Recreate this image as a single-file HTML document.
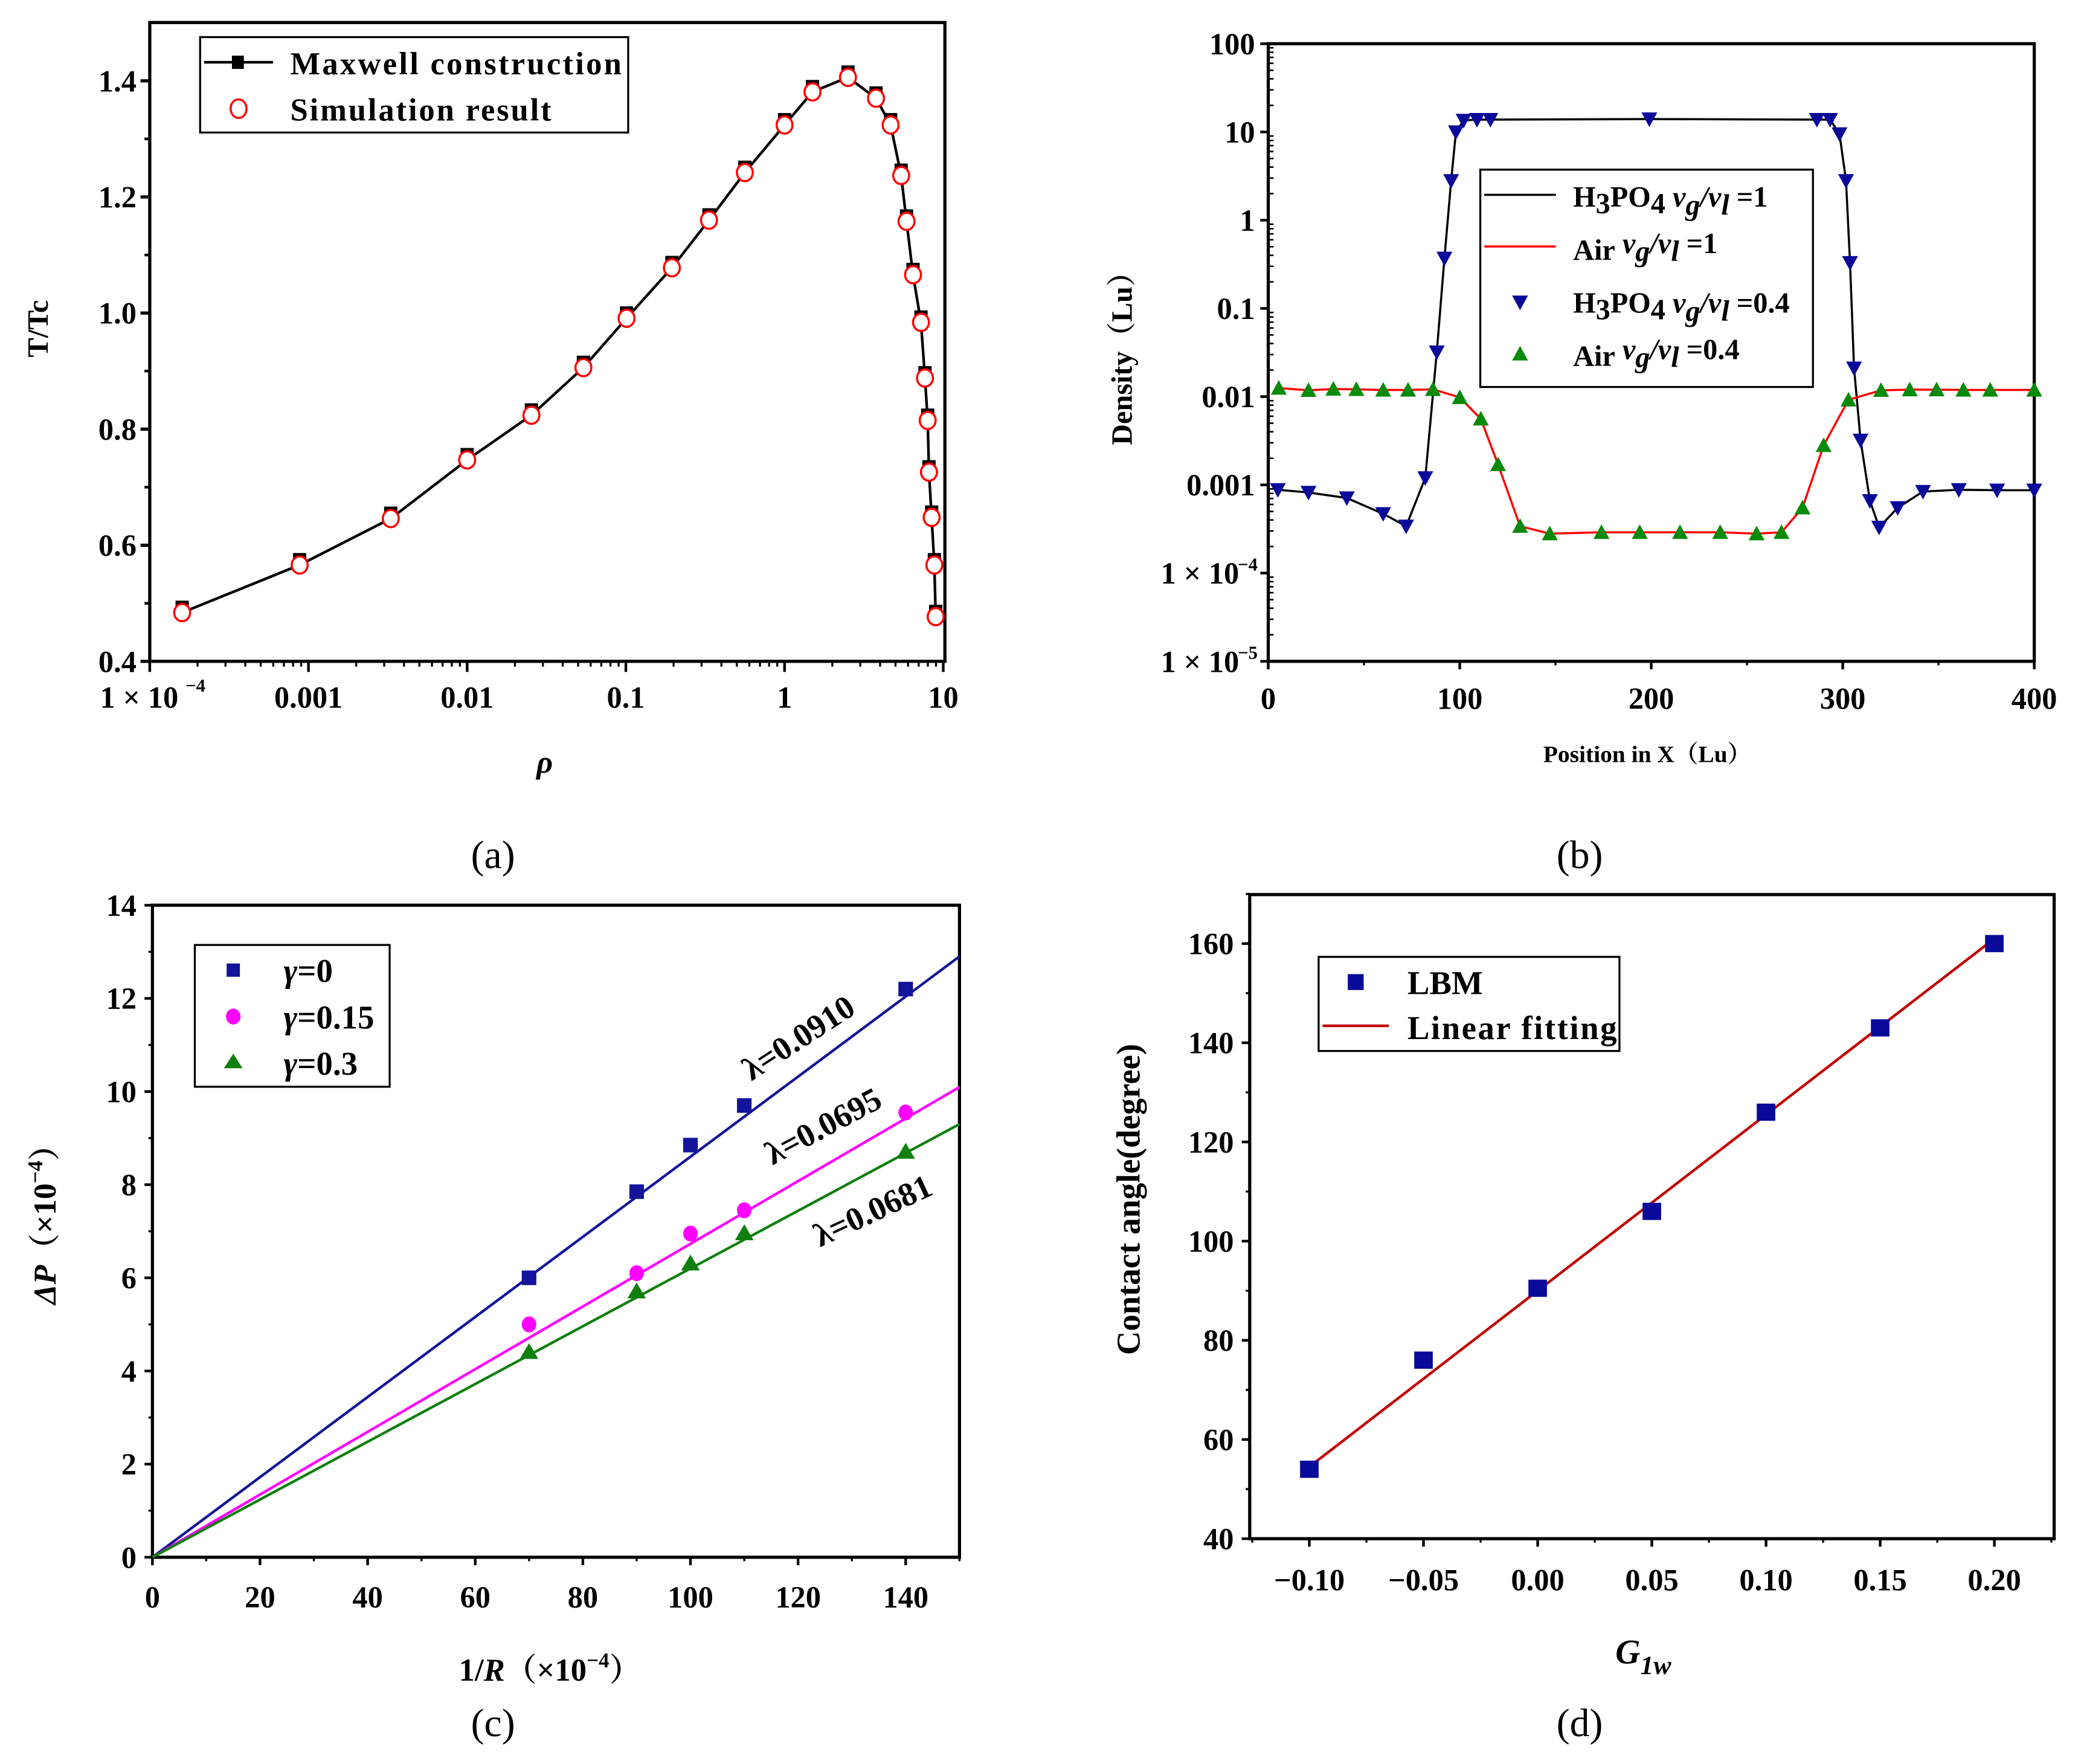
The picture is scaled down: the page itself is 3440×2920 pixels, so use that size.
<!DOCTYPE html>
<html><head><meta charset="utf-8"><style>
html,body{margin:0;padding:0;background:#fff}
svg{display:block}
text{font-family:"Liberation Serif","Noto Serif CJK SC",serif;font-weight:bold;fill:#000}
text.cap{font-weight:normal}
</style></head><body>
<svg id="fig" xmlns="http://www.w3.org/2000/svg" width="3440" height="2920" viewBox="0 0 1568 1331"></svg>
<script>
// ---------- Panel (a) data ----------
const aRho = [1.6e-4,8.8e-4,3.3e-3,0.01,0.0254,0.054,0.101,0.195,0.334,0.562,1.0,1.5,2.51,3.77,4.66,5.43,5.87,6.45,7.24,7.67,7.98,8.13,8.45,8.79,8.96];
const aT = [0.484,0.566,0.646,0.747,0.824,0.906,0.991,1.078,1.160,1.242,1.324,1.381,1.406,1.370,1.324,1.237,1.158,1.066,0.984,0.888,0.815,0.726,0.648,0.566,0.477];
const aYTicks = [0.4,0.6,0.8,1.0,1.2,1.4];
const aYTickLabels = ["0.4","0.6","0.8","1.0","1.2","1.4"];
const aXTicks = [1e-4,1e-3,1e-2,0.1,1,10];
const aXTickLabels = ["1 × 10","0.001","0.01","0.1","1","10"];
// ---------- Panel (b) data ----------
const bHX = [5,21,41,60,72,82,88,92,95.5,98,102,109,116,199,286.5,293.4,298.3,301.7,303.8,305.9,309.3,314.2,319,328.7,341.9,360.6,380.6,400];
const bHY = [0.00088,0.00082,0.00071,0.00047,0.00034,0.0012,0.032,0.37,2.8,10,13.5,13.8,13.8,14,13.8,13.8,9.5,2.8,0.33,0.021,0.0032,0.00066,0.00033,0.00055,0.00084,0.00088,0.00087,0.00087];
const bAX = [5.5,21,34,46,60,73,86,100,111,120,131.5,147,174,194,215,236,255,268,279,290,303,320,335,349,363,377,400];
const bAY = [0.0125,0.0118,0.0122,0.0121,0.0119,0.0119,0.0121,0.0098,0.0056,0.0017,0.00034,0.00028,0.00029,0.00029,0.00029,0.00029,0.00028,0.00029,0.00055,0.0028,0.0092,0.0118,0.012,0.012,0.0119,0.0119,0.0119];
const bYTicks = [1e-5,1e-4,1e-3,1e-2,0.1,1,10,100];
const bYTickLabels = ["1 × 10","1 × 10","0.001","0.01","0.1","1","10","100"];
const bXTicks = [0,100,200,300,400];
const bXTickLabels = ["0","100","200","300","400"];
// ---------- Panel (c) data ----------
const cX = [70,90,100,110,140];
const cY0 = [6.0,7.85,8.85,9.7,12.2];
const cY15 = [5.0,6.1,6.95,7.45,9.55];
const cY30 = [4.4,5.7,6.3,6.95,8.7];
const cSlopes = [0.0860,0.0673,0.0620];
const cLambdaLabels = ["λ=0.0910","λ=0.0695","λ=0.0681"];
const cXTicks = [0,20,40,60,80,100,120,140];
const cYTicks = [0,2,4,6,8,10,12,14];
// ---------- Panel (d) data ----------
const dX = [-0.10,-0.05,0.00,0.05,0.10,0.15,0.20];
const dY = [54,76,90.5,106,126,143,160];
const dFitX = [-0.10,0.20];
const dFitY = [54.5,161];
const dXTicks = [-0.10,-0.05,0.00,0.05,0.10,0.15,0.20];
const dXTickLabels = ["−0.10","−0.05","0.00","0.05","0.10","0.15","0.20"];
const dYTicks = [40,60,80,100,120,140,160];

const NS="http://www.w3.org/2000/svg";
const svg=document.getElementById('fig');
const TS=23;
function mk(tag,attrs,parent){const e=document.createElementNS(NS,tag);for(const k in attrs)e.setAttribute(k,attrs[k]);(parent||svg).appendChild(e);return e;}
function txt(s,x,y,size,parent,anchor,extra){const t=mk('text',Object.assign({x:x,y:y,'font-size':size,'text-anchor':anchor||'middle'},extra||{}),parent);t.textContent=s;return t;}
function grp(parent){return mk('g',{},parent);}
function pathD(xs,ys,fx,fy){return xs.map((v,i)=>(i?'L':'M')+fx(v).toFixed(2)+' '+fy(ys[i]).toFixed(2)).join(' ');}
const L10=Math.log10;

// ================= Panel A =================
{
const X0=113,X1=713,Y0=17,Y1=499;
const fx=v=>113+(L10(v)+4)*119.75;
const fy=v=>499-(v-0.4)*438;
const g=grp();
const frame=mk('rect',{x:X0,y:Y0,width:X1-X0,height:Y1-Y0,fill:'none',stroke:'#000','stroke-width':2.4},g);

aYTicks.forEach((v,i)=>{mk('line',{x1:X0-7,x2:X0,y1:fy(v),y2:fy(v),stroke:'#000','stroke-width':2.4},g);
 if(i<aYTicks.length-1)mk('line',{x1:X0-4,x2:X0,y1:fy(v+0.1),y2:fy(v+0.1),stroke:'#000','stroke-width':2},g);
 const t=txt(aYTickLabels[i],X0-10,fy(v)+8,TS,g,'end');});
aXTicks.forEach((v,i)=>{mk('line',{x1:fx(v),x2:fx(v),y1:Y1,y2:Y1+8,stroke:'#000','stroke-width':2},g);
 if(i<aXTicks.length-1)for(let k=2;k<10;k++)mk('line',{x1:fx(v*k),x2:fx(v*k),y1:Y1,y2:Y1+4,stroke:'#000','stroke-width':1.5},g);
 const t=txt(aXTickLabels[i],fx(v)+(i==0?-8:0),534,TS,g,'middle');
 if(i==0){const s=txt('−4',fx(v)+27,522,14,g,'start');}});
const yl=txt('T/Tc',36,248,22,g,'middle',{transform:'rotate(-90 36 248)'});
const xl=txt('ρ',411,583,24,g,'middle',{'font-style':'italic'});
const ln=mk('path',{d:pathD(aRho,aT,fx,fy),fill:'none',stroke:'#000','stroke-width':2},g);

aRho.forEach((v,i)=>{const s=mk('rect',{x:fx(v)-5,y:fy(aT[i])-9,width:10,height:10,fill:'#000'},g);
 });
aRho.forEach((v,i)=>{const c=mk('ellipse',{cx:fx(v),cy:fy(aT[i]),rx:6,ry:6.5,fill:'#fff',stroke:'#f00','stroke-width':1.6},g);
 });
const lg=grp(g);
mk('rect',{x:151,y:28,width:323,height:72,fill:'#fff',stroke:'#000','stroke-width':1.5},lg);
mk('line',{x1:154,x2:206,y1:47,y2:47,stroke:'#000','stroke-width':2},lg);mk('rect',{x:175,y:42,width:9,height:10,fill:'#000'},lg);
const e1=txt('Maxwell construction',219,56,24,lg,'start',{textLength:250});
mk('ellipse',{cx:180,cy:82,rx:6,ry:7,fill:'none',stroke:'#f00','stroke-width':1.6},lg);
const e2=txt('Simulation result',219,91,24,lg,'start',{textLength:197});
const cap=txt('(a)',372,655,30,g,'middle',{'class':'cap',style:'font-weight:normal'});
}

// ================= Panel B =================
{
const X0=957,X1=1535,Y0=33,Y1=499;
const fx=v=>957+v*1.445;
const fy=v=>33+(2-L10(v))*66.57;
const g=grp();
const frame=mk('rect',{x:X0,y:Y0,width:X1-X0,height:Y1-Y0,fill:'none',stroke:'#000','stroke-width':2.4},g);

bYTicks.forEach((v,i)=>{mk('line',{x1:X0-6,x2:X0,y1:fy(v),y2:fy(v),stroke:'#000','stroke-width':2},g);
 if(i<bYTicks.length-1)for(let k=2;k<10;k++)mk('line',{x1:X0,x2:X0+4,y1:fy(v*k),y2:fy(v*k),stroke:'#000','stroke-width':1.2},g);
 const t=txt(bYTickLabels[i],X0-(i<2?22:10),fy(v)+8,TS,g,'end');
 if(i<2){const s=txt(i==0?'−5':'−4',X0-8,fy(v)-2,14,g,'end');}});
bXTicks.forEach((v,i)=>{mk('line',{x1:fx(v),x2:fx(v),y1:Y1,y2:Y1+6,stroke:'#000','stroke-width':2},g);
 if(i<bXTicks.length-1)mk('line',{x1:fx(v+50),x2:fx(v+50),y1:Y1,y2:Y1+3,stroke:'#000','stroke-width':1.5},g);
 const t=txt(bXTickLabels[i],fx(v),535,TS,g,'middle');});
const yl=txt('Density（Lu）',854,265,22,g,'middle',{transform:'rotate(-90 854 265)'});
const xl=txt('Position in X（Lu）',1243,575,18,g,'middle');
const l1=mk('path',{d:pathD(bHX,bHY,fx,fy),fill:'none',stroke:'#000','stroke-width':1.6},g);
const l2=mk('path',{d:pathD(bAX,bAY,fx,fy),fill:'none',stroke:'#f00','stroke-width':1.6},g);
bHX.forEach((v,i)=>{const x=fx(v),y=fy(bHY[i]);const p=mk('path',{d:`M${x-6} ${y-5}L${x+6} ${y-5}L${x} ${y+6}Z`,fill:'#0a0a9a'},g);});
bAX.forEach((v,i)=>{const x=fx(v),y=fy(bAY[i]);const p=mk('path',{d:`M${x-6} ${y+5}L${x+6} ${y+5}L${x} ${y-6}Z`,fill:'#0a8a0a'},g);});
const lg=grp(g);
mk('rect',{x:1117,y:128,width:251,height:164,fill:'#fff',stroke:'#000','stroke-width':1.5},lg);
mk('line',{x1:1120,x2:1174,y1:147,y2:147,stroke:'#000','stroke-width':1.6},lg);
mk('line',{x1:1120,x2:1174,y1:186,y2:186,stroke:'#f00','stroke-width':1.6},lg);
mk('path',{d:'M1141 223L1153 223L1147 234Z',fill:'#0a0a9a'},lg);
mk('path',{d:'M1141 272L1153 272L1147 261Z',fill:'#0a8a0a'},lg);
const items=[['H','3','PO','4',' v','g','/v','l',' =1',156],['Air','','','',' v','g','/v','l',' =1',196],['H','3','PO','4',' v','g','/v','l',' =0.4',236],['Air','','','',' v','g','/v','l',' =0.4',276]];
items.forEach(it=>{const t=mk('text',{x:1187,y:it[9],'font-size':22,'text-anchor':'start'},lg);
 
 const parts=[[it[0],0,0],[it[1],5,0],[it[2],-5,0],[it[3],5,0],[it[4],-5,1],[it[5],6,1],[it[6],-6,1],[it[7],6,1],[it[8],-6,0]];
 parts.forEach(p=>{if(!p[0])return;const s=mk('tspan',{dy:p[1]},t);if(p[2])s.setAttribute('font-style','italic');s.textContent=p[0];});});
const cap=txt('(b)',1192,655,30,g,'middle',{'class':'cap',style:'font-weight:normal'});
}

// ================= Panel C =================
{
const X0=115,X1=724,Y0=683,Y1=1175;
const fx=v=>115+v*4.06;
const fy=v=>1175-v*35.14;
const g=grp();
const frame=mk('rect',{x:X0,y:Y0,width:X1-X0,height:Y1-Y0,fill:'none',stroke:'#000','stroke-width':2.4},g);

cYTicks.forEach((v,i)=>{mk('line',{x1:X0-6,x2:X0,y1:fy(v),y2:fy(v),stroke:'#000','stroke-width':2},g);
 if(i<cYTicks.length-1)mk('line',{x1:X0-3,x2:X0,y1:fy(v+1),y2:fy(v+1),stroke:'#000','stroke-width':1.5},g);
 const t=txt(String(v),X0-12,fy(v)+8,TS,g,'end');});
cXTicks.forEach(v=>{mk('line',{x1:fx(v),x2:fx(v),y1:Y1,y2:Y1+6,stroke:'#000','stroke-width':2},g);
 mk('line',{x1:fx(v+10),x2:fx(v+10),y1:Y1,y2:Y1+3,stroke:'#000','stroke-width':1.5},g);
 const t=txt(String(v),fx(v),1213,TS,g,'middle');});
const yl=mk('text',{x:42,y:918,'font-size':24,'text-anchor':'middle',transform:'rotate(-90 42 918)'},g);

yl.innerHTML='<tspan font-style="italic">ΔP</tspan><tspan>（×10</tspan><tspan dy="-10" font-size="16">−4</tspan><tspan dy="10">）</tspan>';
const xl=mk('text',{x:415,y:1268,'font-size':24,'text-anchor':'middle'},g);

xl.innerHTML='<tspan>1/</tspan><tspan font-style="italic">R</tspan><tspan>（×10</tspan><tspan dy="-10" font-size="16">−4</tspan><tspan dy="10">）</tspan>';
const cols=['#14149a','#ff00ff','#0f800f'];
const series=[cY0,cY15,cY30];
const names=['gamma-0','gamma-0.15','gamma-0.3'];
series.forEach((ys,si)=>{const l=mk('line',{x1:fx(0),y1:fy(0),x2:fx(150),y2:fy(150*cSlopes[si]),stroke:cols[si],'stroke-width':2},g);
 });
cX.forEach((v,i)=>{const x=fx(v);
 let y=fy(cY0[i]);const s=mk('rect',{x:x-5.5,y:y-5.5,width:11,height:11,fill:cols[0]},g);
 y=fy(cY15[i]);const c=mk('ellipse',{cx:x,cy:y,rx:5.5,ry:6,fill:cols[1]},g);
 y=fy(cY30[i]);const t=mk('path',{d:`M${x-7} ${y+5}L${x+7} ${y+5}L${x} ${y-7}Z`,fill:cols[2]},g);});
const lam=[[607,790,-33],[625,857,-28],[662,921,-25]];
lam.forEach((p,i)=>{const t=txt(cLambdaLabels[i],p[0],p[1],25,g,'middle',{transform:`rotate(${p[2]} ${p[0]} ${p[1]})`});});
const lg=grp(g);
mk('rect',{x:147,y:713,width:147,height:107,fill:'#fff',stroke:'#000','stroke-width':1.5},lg);
mk('rect',{x:171,y:727,width:10,height:10,fill:cols[0]},lg);
mk('ellipse',{cx:176,cy:767,rx:5.5,ry:6,fill:cols[1]},lg);
mk('path',{d:'M169 806L183 806L176 795Z',fill:cols[2]},lg);
['=0','=0.15','=0.3'].forEach((s,i)=>{const t=mk('text',{x:214,y:741+i*35,'font-size':25,'text-anchor':'start'},lg);
 
 t.innerHTML='<tspan font-style="italic">γ</tspan><tspan>'+s+'</tspan>';});
const cap=txt('(c)',372,1310,30,g,'middle',{'class':'cap',style:'font-weight:normal'});
}

// ================= Panel D =================
{
const X0=943,X1=1550,Y0=675,Y1=1161;
const fx=v=>988+(v+0.1)*1723;
const fy=v=>1161-(v-40)*3.742;
const g=grp();
const frame=mk('rect',{x:X0,y:Y0,width:X1-X0,height:Y1-Y0,fill:'none',stroke:'#000','stroke-width':2.4},g);

dYTicks.forEach((v,i)=>{mk('line',{x1:X0-6,x2:X0,y1:fy(v),y2:fy(v),stroke:'#000','stroke-width':2},g);
 mk('line',{x1:X0-3,x2:X0,y1:fy(v+10),y2:fy(v+10),stroke:'#000','stroke-width':1.5},g);
 const t=txt(String(v),X0-12,fy(v)+8,TS,g,'end');});
dXTicks.forEach((v,i)=>{mk('line',{x1:fx(v),x2:fx(v),y1:Y1,y2:Y1+6,stroke:'#000','stroke-width':2},g);
 mk('line',{x1:fx(v-0.025),x2:fx(v-0.025),y1:Y1,y2:Y1+3,stroke:'#000','stroke-width':1.5},g);
 const t=txt(dXTickLabels[i],fx(v),1200,TS,g,'middle');});
mk('line',{x1:fx(0.225),x2:fx(0.225),y1:Y1,y2:Y1+3,stroke:'#000','stroke-width':1.5},g);
const yl=txt('Contact angle(degree)',860,905,25,g,'middle',{transform:'rotate(-90 860 905)'});
const xl=mk('text',{x:1240,y:1255,'font-size':26,'text-anchor':'middle','font-style':'italic'},g);

xl.innerHTML='<tspan>G</tspan><tspan dy="8" font-size="20">1w</tspan>';
const fl=mk('path',{d:pathD(dFitX,dFitY,fx,fy),stroke:'#c00000','stroke-width':2,fill:'none'},g);

dX.forEach((v,i)=>{const s=mk('rect',{x:fx(v)-7,y:fy(dY[i])-6.5,width:14,height:13,fill:'#0a0a9a'},g);
 });
const lg=grp(g);
mk('rect',{x:995,y:722,width:227,height:71,fill:'#fff',stroke:'#000','stroke-width':1.5},lg);
mk('rect',{x:1017,y:735,width:12,height:12,fill:'#0a0a9a'},lg);
mk('line',{x1:998,x2:1048,y1:774,y2:774,stroke:'#c00000','stroke-width':2},lg);
const e1=txt('LBM',1062,750,25,lg,'start');
const e2=txt('Linear fitting',1062,784,25,lg,'start',{textLength:158});
const cap=txt('(d)',1192,1310,30,g,'middle',{'class':'cap',style:'font-weight:normal'});
}
</script>
</body></html>
